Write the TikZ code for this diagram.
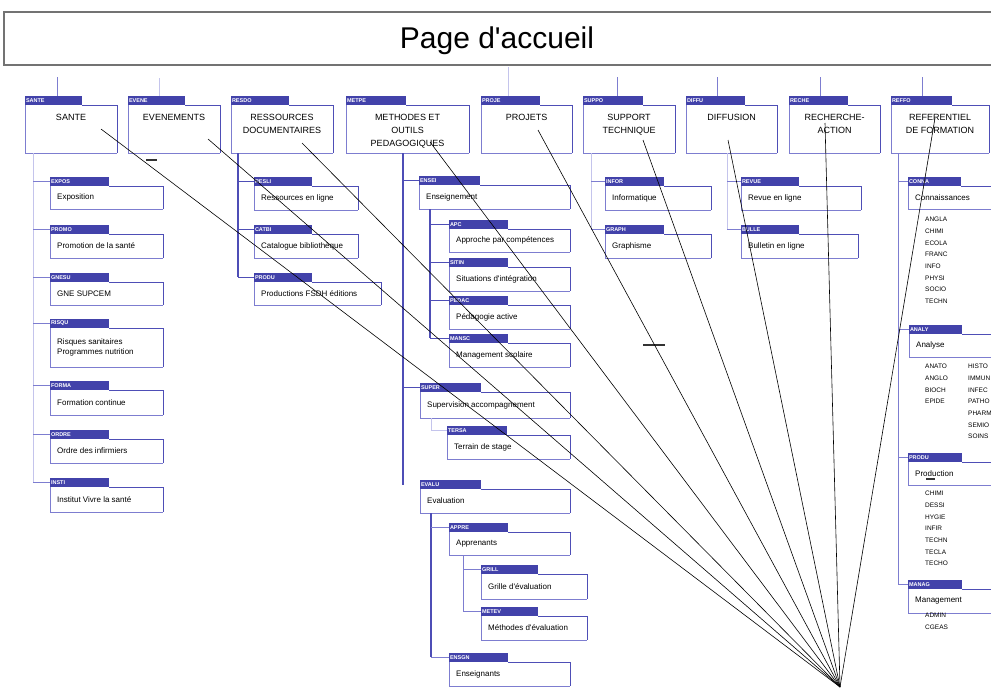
\documentclass[tikz,border=0pt]{standalone}
\usepackage{fontspec}
\setmainfont[Ligatures=NoCommon]{Liberation Sans}
\definecolor{tabblue}{RGB}{66,66,170}
\definecolor{dk}{RGB}{78,78,182}
\definecolor{md}{RGB}{125,125,208}
\definecolor{lt}{RGB}{196,196,236}
\tikzset{
  tabtxt/.style={text=white, font=\fontsize{5.5}{6}\selectfont\bfseries, inner sep=0.8pt, anchor=west},
  btxt/.style={font=\fontsize{8}{10}\selectfont, inner sep=0pt, anchor=west, align=left},
  ttxt/.style={font=\fontsize{9}{13}\selectfont, inner sep=0pt, anchor=north, align=center},
  lst/.style={font=\fontsize{6.5}{11.7}\selectfont, inner sep=0pt, anchor=north west, align=left},
  fan/.style={black, line width=0.6pt},
  dtrunk/.style={dk, line width=1.1pt},
  mtrunk/.style={md, line width=1pt},
  ltrunk/.style={lt, line width=1pt},
  tick/.style={black!80, line width=1.3pt},
}
\newcommand\apo{\textquotesingle}
% child box: name, x1, tab top, tab right, box right, box bottom, code, text
\newcommand\cbx[8]{%
  \fill[tabblue] (#2,#3) rectangle (#4,#3+9);
  \node[tabtxt] (#1t) at (#2,#3+4.5) {#7};
  \draw[md, line width=1pt] (#2,#3+9) -- (#2,#6);
  \draw[md, line width=1pt] (#2,#6) -- (#5,#6);
  \draw[dk, line width=1pt] (#4,#3+9) -- (#5,#3+9) -- (#5,#6);
  \node[btxt] (#1) at (#2+7,{(#3+9+#6)/2}) {#8};
}
% top box: name, x1, tab right, x2, code, text
\newcommand\tbx[6]{%
  \fill[tabblue] (#2,96) rectangle (#3,105);
  \node[tabtxt] (#1t) at (#2,100.5) {#5};
  \draw[md, line width=1pt] (#2,105) -- (#2,153) -- (#4,153);
  \draw[dk, line width=1pt] (#3,105) -- (#4,105) -- (#4,153);
  \node[ttxt] (#1) at ({(#2+#4)/2},114) {#6};
}
\begin{document}
\begin{tikzpicture}[x=1pt,y=-1pt]
\useasboundingbox (0,0) rectangle (991,688);
\clip (0,0) rectangle (991,688);
\fill[white] (0,0) rectangle (991,688);

% title
\draw[black!55, line width=1.2pt] (4,12) rectangle (1000,65);
\node[font=\fontsize{30}{31}\selectfont, inner sep=0pt] (title) at (497,41) {Page d\apo accueil};

% stubs
\draw[mtrunk] (57,77) -- (57,96);
\draw[ltrunk] (159,78) -- (159,96);
\draw[ltrunk] (508,67) -- (508,96);
\draw[mtrunk] (617,77) -- (617,96);
\draw[mtrunk] (717,77) -- (717,96);
\draw[mtrunk] (820,77) -- (820,96);
\draw[mtrunk] (922,77) -- (922,96);

% top boxes
\tbx{sante}{25}{82}{117}{SANTE}{SANTE}
\tbx{even}{128}{185}{220}{EVENE}{EVENEMENTS}
\tbx{ress}{231}{289}{333}{RESDO}{RESSOURCES\\DOCUMENTAIRES}
\tbx{meth}{346}{406}{469}{METPE}{METHODES ET\\OUTILS\\PEDAGOGIQUES}
\tbx{proj}{481}{540}{572}{PROJE}{PROJETS}
\tbx{supp}{583}{643}{675}{SUPPO}{SUPPORT\\TECHNIQUE}
\tbx{diff}{686}{745}{777}{DIFFU}{DIFFUSION}
\tbx{rech}{789}{848}{880}{RECHE}{RECHERCHE-\\ACTION}
\tbx{refe}{891}{952}{989}{REFFO}{REFERENTIEL\\DE FORMATION}

% SANTE children
\draw[ltrunk] (33,153) -- (33,482);
\cbx{expo}{50}{177}{109}{163}{209}{EXPOS}{Exposition}
\cbx{promo}{50}{225}{109}{163}{258}{PROMO}{Promotion de la santé}
\cbx{gne}{50}{273}{109}{163}{305}{GNESU}{GNE SUPCEM}
\cbx{risq}{50}{319}{109}{163}{367}{RISQU}{Risques sanitaires\\Programmes nutrition}
\cbx{form}{50}{381}{109}{163}{415}{FORMA}{Formation continue}
\cbx{ordre}{50}{430}{109}{163}{463}{ORDRE}{Ordre des infirmiers}
\cbx{inst}{50}{478}{109}{163}{512}{INSTI}{Institut Vivre la santé}
\foreach \n in {expo,promo,gne,risq,form,ordre,inst}
  \draw[mtrunk] (33,0 |- \n t.west) -- (\n t.west);

% RESSOURCES children
\draw[dtrunk] (238,153) -- (238,277);
\cbx{rligne}{254}{177}{312}{358}{210}{RESLI}{Ressources en ligne}
\cbx{catal}{254}{225}{312}{358}{258}{CATBI}{Catalogue bibliothèque}
\cbx{prod}{254}{273}{312}{381}{305}{PRODU}{Productions FSDH éditions}
\foreach \n in {rligne,catal,prod}
  \draw[dtrunk] (238,0 |- \n t.west) -- (\n t.west);

% METHODES children
\draw[dtrunk] (403,153) -- (403,485);
\cbx{ens}{419}{176}{480}{570}{209}{ENSEI}{Enseignement}
\draw[dtrunk] (430,209) -- (430,338);
\cbx{appc}{449}{220}{508}{570}{252}{APC}{Approche par compétences}
\cbx{sitin}{449}{258}{508}{570}{291}{SITIN}{Situations d\apo intégration}
\cbx{pedac}{449}{296}{508}{570}{329}{PEDAC}{Pédagogie active}
\cbx{mansc}{449}{334}{508}{570}{367}{MANSC}{Management scolaire}
\foreach \n in {appc,sitin,pedac,mansc}
  \draw[dtrunk] (430,0 |- \n t.west) -- (\n t.west);
\cbx{superv}{420}{383}{481}{570}{418}{SUPER}{Supervision accompagnement}
\draw[ltrunk] (431,418) -- (431,430);
\cbx{terr}{447}{426}{507}{570}{459}{TERSA}{Terrain de stage}
\draw[ltrunk] (431,0 |- terrt.west) -- (terrt.west);
\cbx{eval}{420}{480}{481}{570}{513}{EVALU}{Evaluation}
\draw[dtrunk] (431,513) -- (431,657);
\cbx{appr}{449}{523}{508}{570}{555}{APPRE}{Apprenants}
\draw[mtrunk] (463,555) -- (463,611);
\cbx{grille}{481}{565}{538}{587}{599}{GRILL}{Grille d\apo évaluation}
\cbx{methev}{481}{607}{538}{587}{640}{METEV}{Méthodes d\apo évaluation}
\foreach \n in {grille,methev}
  \draw[mtrunk] (463,0 |- \n t.west) -- (\n t.west);
\cbx{ensgn}{449}{653}{508}{570}{686}{ENSGN}{Enseignants}
\foreach \n in {appr,ensgn}
  \draw[mtrunk] (431,0 |- \n t.west) -- (\n t.west);
\foreach \n in {ens,superv}
  \draw[dtrunk] (403,0 |- \n t.west) -- (\n t.west);

% SUPPORT children
\draw[ltrunk] (591,153) -- (591,230);
\cbx{info}{605}{177}{664}{711}{210}{INFOR}{Informatique}
\cbx{graph}{605}{225}{664}{711}{258}{GRAPH}{Graphisme}
\foreach \n in {info,graph}
  \draw[mtrunk] (591,0 |- \n t.west) -- (\n t.west);

% DIFFUSION children
\draw[ltrunk] (727,153) -- (727,230);
\cbx{revue}{741}{177}{799}{861}{210}{REVUE}{Revue en ligne}
\cbx{bull}{741}{225}{799}{858}{258}{BULLE}{Bulletin en ligne}
\foreach \n in {revue,bull}
  \draw[mtrunk] (727,0 |- \n t.west) -- (\n t.west);

% REFERENTIEL children
\draw[mtrunk] (898,153) -- (898,585);
\cbx{conn}{908}{177}{961}{996}{209}{CONNA}{Connaissances}
\cbx{anal}{909}{325}{962}{996}{357}{ANALY}{Analyse}
\cbx{produc}{908}{453}{962}{996}{485}{PRODU}{Production}
\cbx{manag}{908}{580}{962}{996}{613}{MANAG}{Management}
\foreach \n in {conn,anal,produc,manag}
  \draw[mtrunk] (898,0 |- \n t.west) -- (\n t.west);
\node[lst] (l1) at (925,217) {ANGLA\\CHIMI\\ECOLA\\FRANC\\INFO\\PHYSI\\SOCIO\\TECHN};
\node[lst] (l2) at (925,364) {ANATO\\ANGLO\\BIOCH\\EPIDE};
\node[lst] (l3) at (968,364) {HISTO\\IMMUN\\INFEC\\PATHO\\PHARM\\SEMIO\\SOINS};
\node[lst] (l4) at (925,491) {CHIMI\\DESSI\\HYGIE\\INFIR\\TECHN\\TECLA\\TECHO};
\node[lst] (l5) at (925,613) {ADMIN\\CGEAS};

% small ticks
\draw[tick] (146,160) -- (157,160);
\draw[tick] (643,345) -- (665,345);
\draw[tick] (926,479) -- (935,479);

% fan of lines
\coordinate (focus) at (840,687);
\coordinate (f1) at (101,129);
\coordinate (f2) at (208,139);
\coordinate (f3) at (302,143);
\coordinate (f4) at (430,142);
\coordinate (f5) at (538,130);
\coordinate (f6) at (643,140);
\coordinate (f7) at (728,140);
\coordinate (f8) at (825,123);
\coordinate (f9) at (935,118);
\foreach \i in {1,...,9} \draw[fan] (f\i) -- (focus);
\end{tikzpicture}
\end{document}
